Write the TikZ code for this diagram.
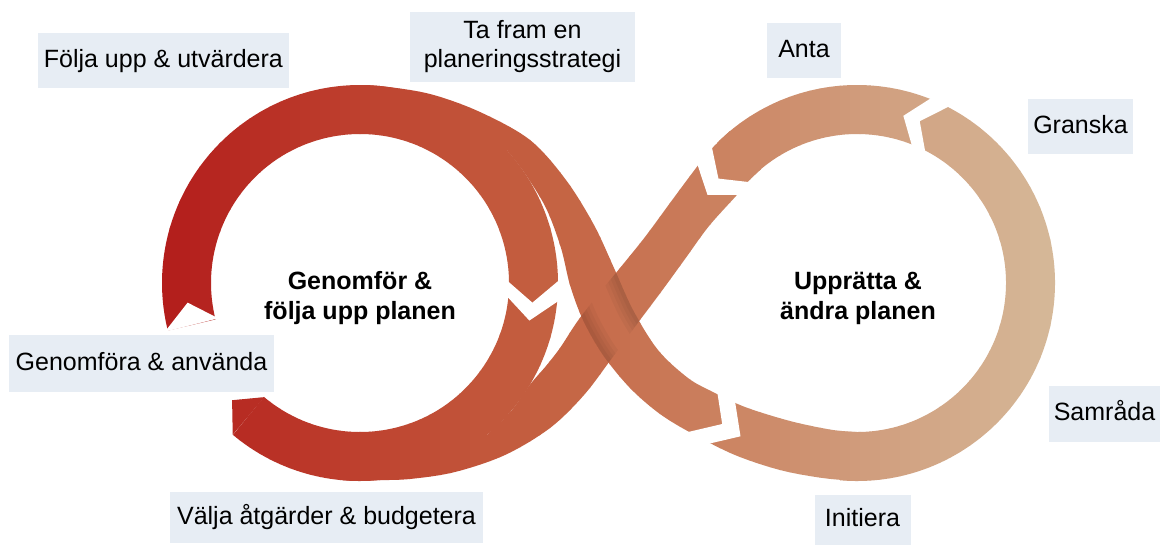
\documentclass[tikz,border=0pt]{standalone}
\usepackage{fontspec}
\setmainfont{Liberation Sans}
\usetikzlibrary{calc}
\definecolor{g0}{RGB}{178,26,26}
\definecolor{g1}{RGB}{190,65,47}
\definecolor{g2}{RGB}{196,96,64}
\definecolor{g3}{RGB}{203,130,96}
\definecolor{g4}{RGB}{208,156,124}
\definecolor{g5}{RGB}{214,187,155}
\definecolor{boxc}{RGB}{231,237,244}
% band A: from top of left loop down to bottom of right loop
\newcommand\bandApath[1]{#1 plot[smooth,tension=0.55] coordinates {(353.1,85.1) (380.7,86.1) (430,94) (480,112) (530,140) (566,180) (594,225) (614,268) (633,310) (658,350) (688,378) (713,392) (745,407) (790,421) (831.1,429.7) (857,432)}
 -- plot[smooth,tension=0.55] coordinates {(857,481) (822.6,478) (780,470) (735,455) (693,434) (660,414) (630,388) (603,355) (583,320) (570,285) (561,248) (546,208) (524.1,172.3) (507.1,150.5)} -- cycle;}
% band B: from top of right loop down to bottom of left loop
\newcommand\bandBpath[1]{#1 plot[smooth,tension=0.55] coordinates {(729.7,131.3) (709.9,150.5) (692.8,172.3) (670,203) (645,237) (620,268) (597,296) (577,322) (560,348) (546,366) (529.7,385) (511.7,410.3) (487.3,434.7)}
 -- plot[smooth,tension=0.55] coordinates {(342.7,480.2) (360,481) (377.3,480.2) (410,479) (455,472) (505,455) (550,428) (584,395) (612,358) (637,324) (661,292) (685,259) (709,226) (736.5,195.4) (746.3,183.3) (761.2,168.9)} -- cycle;}
\newcommand\infband{%
  \draw[line width=49pt] (C1) ++(130:173.5) arc[start angle=130, end angle=-194, radius=173.5];
  \draw[line width=49pt] (C2) ++(95:173.5) arc[start angle=95, end angle=-135, radius=173.5];
  \bandApath{\fill}
  \bandBpath{\fill}
  \fill ($(C1)+(130:198)$) -- ($(C1)+(137.5:173.5)$) -- ($(C1)+(130:149)$) -- cycle;
}
\tikzset{
  lbl/.style={fill=boxc, inner sep=0pt, font=\fontsize{25}{30}\selectfont, text height=18pt, text depth=5pt},
  ctr/.style={align=center, inner sep=0pt, font=\bfseries\fontsize{25}{30}\selectfont},
  gapc/.style={fill=white},
  shadowline/.style={black, opacity=0.035}
}
\begin{document}
\begin{tikzpicture}[x=1pt,y=-1pt]
\useasboundingbox (0,0) rectangle (1160,544);
\fill[white] (0,0) rectangle (1160,544);
\coordinate (C1) at (360,283);
\coordinate (C2) at (857,283);
\coordinate (J1) at (701.5,410);
\foreach \xa/\xb/\ca/\cb/\nn in {150/360/g0/g1/21, 360/540/g1/g2/18, 540/720/g2/g3/18, 720/860/g3/g4/14, 860/1070/g4/g5/21}{
  \pgfmathsetmacro\sw{(\xb-\xa)/\nn}
  \foreach \k in {1,...,\nn}{
    \pgfmathsetmacro\xl{\xa+(\k-1)*\sw-0.4}
    \pgfmathsetmacro\xr{\xa+\k*\sw+0.4}
    \pgfmathsetmacro\pc{100*(\k-0.5)/\nn}
    \colorlet{stripc}{\cb!\pc!\ca}
    \begin{scope}[color=stripc]
      \clip (\xl,-5) rectangle (\xr,550);
      \infband
    \end{scope}
  }
}
% soft shading where the two bands cross
\begin{scope}
  \bandApath{\clip}
  \bandBpath{\clip}
  \foreach \lw in {30,22,15,8}{
    \draw[shadowline, line width=\lw pt] plot[smooth] coordinates {(594,225) (614,268) (633,310) (658,350)};
    \draw[shadowline, line width=\lw pt] plot[smooth] coordinates {(561,248) (570,285) (583,320) (603,355) (630,388)};
  }
\end{scope}
% gaps between the arrow segments
\fill[gapc] ($(C1)+(359:200)$) -- ($(C1)+(366.5:173.5)$) -- ($(C1)+(359:147)$) -- ($(C1)+(365:147)$) -- ($(C1)+(372.5:173.5)$) -- ($(C1)+(365:200)$) -- cycle;
\fill[gapc] ($(C1)+(166:201)$) -- ($(C1)+(173.5:173.5)$) -- ($(C1)+(166:146)$) -- cycle;
\fill[gapc] ($(C2)+(298.7:205)$) -- ($(C2)+(291.2:173.5)$) -- ($(C2)+(298.7:144)$) -- ($(C2)+(293:144)$) -- ($(C2)+(285.5:173.5)$) -- ($(C2)+(293:205)$) -- cycle;
\fill[gapc] ($(C2)+(224.5:206)$) -- ($(C2)+(217:173.5)$) -- ($(C2)+(224.5:143)$) -- ($(C2)+(218:143)$) -- ($(C2)+(210.5:173.5)$) -- ($(C2)+(218:206)$) -- cycle;
\fill[gapc] ($(J1)+(15.1,-22.4)$) -- ($(J1)+(20.7,14)$) -- ($(J1)+(-15.1,22.4)$) -- ($(J1)+(3.1,34.7)$) -- ($(J1)+(39,26.3)$) -- ($(J1)+(33.3,-10.1)$) -- cycle;
% labels
\node[lbl, minimum width=251pt, minimum height=55pt] (l1) at (163.4,60.5) {Följa upp \& utvärdera};
\node[fill=boxc, inner sep=0pt, align=center, font=\fontsize{25}{29}\selectfont, minimum width=225pt, minimum height=70pt] (l2) at (522.5,47) {Ta fram en\\planeringsstrategi};
\node[lbl, minimum width=74pt, minimum height=55pt] (l3) at (804,50.5) {Anta};
\node[lbl, minimum width=105pt, minimum height=55pt] (l4) at (1080.5,126.5) {Granska};
\node[lbl, minimum width=111pt, minimum height=56pt] (l5) at (1104.5,414) {Samråda};
\node[lbl, minimum width=265pt, minimum height=57pt] (l6) at (141.5,363.5) {Genomföra \& använda};
\node[lbl, minimum width=313pt, minimum height=51pt] (l7) at (326.5,517.5) {Välja åtgärder \& budgetera};
\node[lbl, minimum width=96pt, minimum height=50pt] (l8) at (862.5,520) {Initiera};
\node[ctr] (cl) at (360,298.5) {Genomför \&\\följa upp planen};
\node[ctr] (cr) at (858,298.5) {Upprätta \&\\ändra planen};
\end{tikzpicture}
\end{document}
